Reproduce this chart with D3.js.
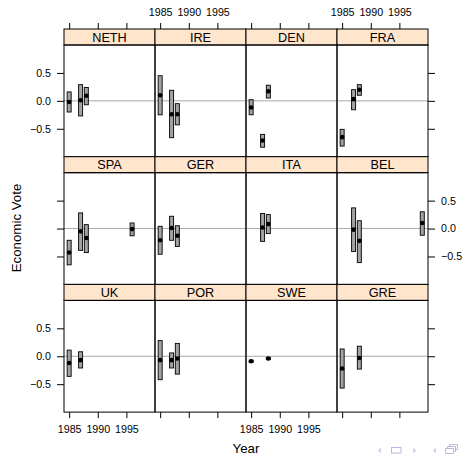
<!DOCTYPE html>
<html>
<head>
<meta charset="utf-8">
<script src="https://cdn.jsdelivr.net/npm/d3@7"></script>
<style>
body { margin: 0; background: #fff; }
text { font-family: Arial, "Liberation Sans", Helvetica, sans-serif; }
</style>
</head>
<body>
<svg width="465" height="454"></svg>
<script>
// panels, left-to-right then top-to-bottom
var countries = ["NETH", "IRE", "DEN", "FRA",
                 "SPA", "GER", "ITA", "BEL",
                 "UK", "POR", "SWE", "GRE"];

// one entry per estimate
var obsCountry = ["NETH","NETH","NETH", "IRE","IRE","IRE", "DEN","DEN","DEN", "FRA","FRA","FRA",
                  "SPA","SPA","SPA","SPA", "GER","GER","GER", "ITA","ITA", "BEL","BEL","BEL",
                  "UK","UK", "POR","POR","POR", "SWE","SWE", "GRE","GRE"];
var obsYear = [1985, 1987, 1988, 1985, 1987, 1988, 1985, 1987, 1988, 1985, 1987, 1988,
               1985, 1987, 1988, 1996, 1985, 1987, 1988, 1987, 1988, 1987, 1988, 1999,
               1985, 1987, 1985, 1987, 1988, 1985, 1988, 1985, 1988];
var obsEst = [-0.02, 0.01, 0.09, 0.10, -0.24, -0.24, -0.12, -0.71, 0.17, -0.65, 0.03, 0.20,
              -0.43, -0.05, -0.17, -0.01, -0.21, 0.01, -0.13, 0.02, 0.08, -0.02, -0.22, 0.10,
              -0.12, -0.07, -0.07, -0.07, -0.04, -0.09, -0.04, -0.22, -0.03];
var obsLo = [-0.20, -0.27, -0.07, -0.25, -0.66, -0.43, -0.25, -0.83, 0.05, -0.81, -0.16, 0.10,
             -0.65, -0.39, -0.43, -0.13, -0.46, -0.21, -0.32, -0.23, -0.09, -0.41, -0.61, -0.12,
             -0.36, -0.21, -0.42, -0.21, -0.32, -0.11, -0.06, -0.57, -0.23];
var obsHi = [0.16, 0.29, 0.24, 0.45, 0.19, -0.05, 0.02, -0.60, 0.28, -0.51, 0.20, 0.29,
             -0.21, 0.28, 0.07, 0.10, 0.04, 0.22, 0.05, 0.27, 0.25, 0.37, 0.14, 0.30,
             0.11, 0.08, 0.28, 0.06, 0.23, -0.07, -0.02, 0.13, 0.18];

var xTicks = [1985, 1990, 1995];
var yTicks = [-0.5, 0, 0.5];

var svg = d3.select("svg");

var left = 64, top0 = 29,
    colW = 91, rowH = 127.7, stripH = 16,
    panelH = rowH - stripH,
    ncol = 4, nrow = 3;

var x = d3.scaleLinear().domain([1984.1, 2000]).range([0, colW]);
var y = d3.scaleLinear().domain([-1, 1]).range([panelH, 0]);

var data = obsCountry.map(function(c, i) {
  return {country: c, year: obsYear[i], est: obsEst[i], lo: obsLo[i], hi: obsHi[i]};
});

var fmtY = d3.format(".1f");

countries.forEach(function(name, k) {
  var col = k % ncol, row = Math.floor(k / ncol);
  var g = svg.append("g")
      .attr("transform", "translate(" + (left + col * colW) + "," + (top0 + row * rowH) + ")");

  // strip
  g.append("rect")
      .attr("width", colW).attr("height", stripH)
      .attr("fill", "#ffe5cc").attr("stroke", "#000").attr("stroke-width", 1);
  g.append("text")
      .attr("x", colW / 2).attr("y", stripH / 2 + 4.5)
      .attr("text-anchor", "middle")
      .style("font-size", "12.7px")
      .text(name);

  var p = g.append("g").attr("transform", "translate(0," + stripH + ")");

  p.append("line")
      .attr("x1", 0).attr("x2", colW)
      .attr("y1", y(0)).attr("y2", y(0))
      .attr("stroke", "#a8a8a8").attr("stroke-width", 1);

  var rows = data.filter(function(d) { return d.country === name; });

  p.selectAll(".bar")
    .data(rows)
    .enter().append("rect")
      .attr("class", "bar")
      .attr("x", function(d) { return x(d.year) - 2; })
      .attr("width", 4)
      .attr("y", function(d) { return y(d.hi); })
      .attr("height", function(d) { return y(d.lo) - y(d.hi); })
      .attr("fill", "#a3a3a3").attr("stroke", "#000").attr("stroke-width", 0.9);

  p.selectAll(".pt")
    .data(rows)
    .enter().append("circle")
      .attr("class", "pt")
      .attr("cx", function(d) { return x(d.year); })
      .attr("cy", function(d) { return y(d.est); })
      .attr("r", 2.3)
      .attr("fill", "#000");

  p.append("rect")
      .attr("width", colW).attr("height", panelH)
      .attr("fill", "none").attr("stroke", "#000").attr("stroke-width", 1);

  // lattice-style alternating axes
  if (row === 0) {
    var at = d3.axisTop(x).tickValues(xTicks).tickSize(6).tickPadding(7)
        .tickFormat(col % 2 === 1 ? d3.format("d") : function() { return ""; });
    g.append("g").call(at).call(styleAxis);
  }
  if (row === nrow - 1) {
    var ab = d3.axisBottom(x).tickValues(xTicks).tickSize(6).tickPadding(7)
        .tickFormat(col % 2 === 0 ? d3.format("d") : function() { return ""; });
    p.append("g").attr("transform", "translate(0," + panelH + ")").call(ab).call(styleAxis);
  }
  if (col === 0) {
    var al = d3.axisLeft(y).tickValues(yTicks).tickSize(7).tickPadding(6)
        .tickFormat(row % 2 === 0 ? fmtY : function() { return ""; });
    p.append("g").call(al).call(styleAxis);
  }
  if (col === ncol - 1) {
    var ar = d3.axisRight(y).tickValues(yTicks).tickSize(7).tickPadding(6)
        .tickFormat(row % 2 === 1 ? fmtY : function() { return ""; });
    p.append("g").attr("transform", "translate(" + colW + ",0)").call(ar).call(styleAxis);
  }
});

function styleAxis(sel) {
  sel.select(".domain").remove();
  sel.selectAll("line").attr("stroke", "#000");
  sel.selectAll("text")
      .attr("fill", "#000")
      .style("font-size", "10.7px")
      .style("font-family", "Arial, 'Liberation Sans', sans-serif");
}

svg.append("text")
    .attr("transform", "translate(20.5,228) rotate(-90)")
    .attr("text-anchor", "middle")
    .style("font-size", "13.3px")
    .text("Economic Vote");

svg.append("text")
    .attr("x", left + ncol * colW / 2).attr("y", 452.5)
    .attr("text-anchor", "middle")
    .style("font-size", "13.3px")
    .text("Year");

// beamer navigation symbols
var nav = svg.append("g").attr("fill", "#d2d2ee").attr("stroke", "none");
nav.append("path").attr("d", "M377.5,450.5 L381,447.5 L381,453.5 Z");
nav.append("rect").attr("x", 391.5).attr("y", 447.5).attr("width", 9.5).attr("height", 5.5)
    .attr("fill", "none").attr("stroke", "#b8b8e0").attr("stroke-width", 1);
nav.append("path").attr("d", "M416.5,450.5 L413,447.5 L413,453.5 Z");
nav.append("path").attr("d", "M432.5,450.5 L436,447.5 L436,453.5 Z");
nav.append("path")
    .attr("d", "M445.5,448.5 h8 v5 h-8 Z M447.5,448.5 v-2 h8 v5 h-2 M449.5,446.5 v-2 h8 v5 h-2")
    .attr("fill", "none").attr("stroke", "#b8b8e0").attr("stroke-width", 1);
</script>
</body>
</html>
